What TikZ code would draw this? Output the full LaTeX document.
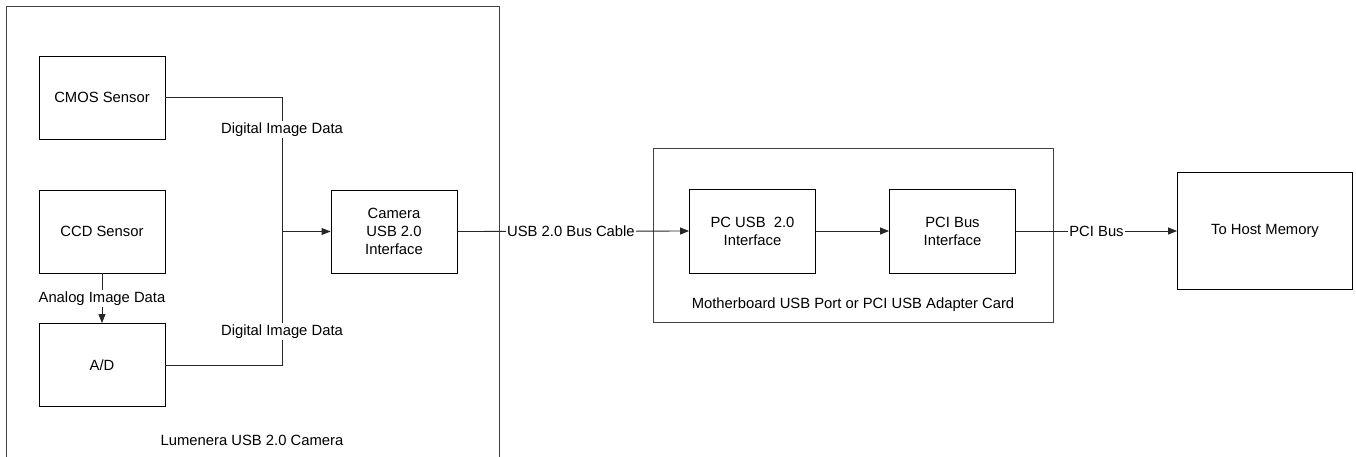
\documentclass[tikz,border=0pt]{standalone}
\usepackage{fontspec}
\setmainfont{Liberation Sans}
\usetikzlibrary{arrows.meta}
\begin{document}
\begin{tikzpicture}[x=1pt,y=-1pt,
  blk/.style={draw=black,line width=0.9pt,minimum width=126pt,minimum height=83pt,inner sep=0pt,align=center,font=\fontsize{14.8}{18}\selectfont},
  cont/.style={draw=black!75,line width=0.9pt},
  conn/.style={draw=black!85,line width=0.9pt},
  arr/.style={conn,-{Triangle[length=9pt,width=7pt]}},
  lbl/.style={fill=white,inner sep=1.5pt,font=\fontsize{14.8}{18}\selectfont},
  ttl/.style={inner sep=0pt,font=\fontsize{14.8}{18}\selectfont}]
\clip (0,0) rectangle (1356,456);
\fill[white] (0,0) rectangle (1356,456);
% containers
\draw[cont] (6,6) rectangle (499,470);
\draw[cont] (653,148) rectangle (1053,322);
\node[ttl] (camttl) at (252,440) {Lumenera USB 2.0 Camera};
\node[ttl] (mbttl) at (853,305) {Motherboard USB Port or PCI USB Adapter Card};
% blocks
\node[blk] (cmos) at (102,97.5) {CMOS Sensor};
\node[blk] (ccd) at (102,231.5) {CCD Sensor};
\node[blk] (ad) at (102,365) {A/D};
\node[blk] (cam) at (394,231.5) {Camera\\USB 2.0\\Interface};
\node[blk,minimum height=84pt] (pcusb) at (752.5,231) {PC USB\ \ 2.0\\Interface};
\node[blk,minimum height=84pt] (pci) at (952.5,231) {PCI Bus\\Interface};
\node[blk,minimum width=175pt,minimum height=117pt] (host) at (1265,231) {To Host Memory};
% connectors
\coordinate (j) at (282,231.5);
\draw[conn] (cmos.east) -- (282,97.5) -- node[lbl,pos=0.24]{Digital Image Data} (j);
\draw[conn] (ad.east) -- (282,365) -- node[lbl,pos=0.25]{Digital Image Data} (j);
\draw[arr] (j) -- (cam.west);
\draw[arr] (ccd.south) -- node[lbl,pos=0.5]{Analog Image Data} (ad.north);
\draw[arr] (cam.east) -- node[lbl,pos=0.49]{USB 2.0 Bus Cable} (pcusb.west);
\draw[arr] (pcusb.east) -- (pci.west);
\draw[arr] (pci.east) -- node[lbl,pos=0.5,inner sep=1pt]{PCI Bus} (host.west);
\end{tikzpicture}
\end{document}
